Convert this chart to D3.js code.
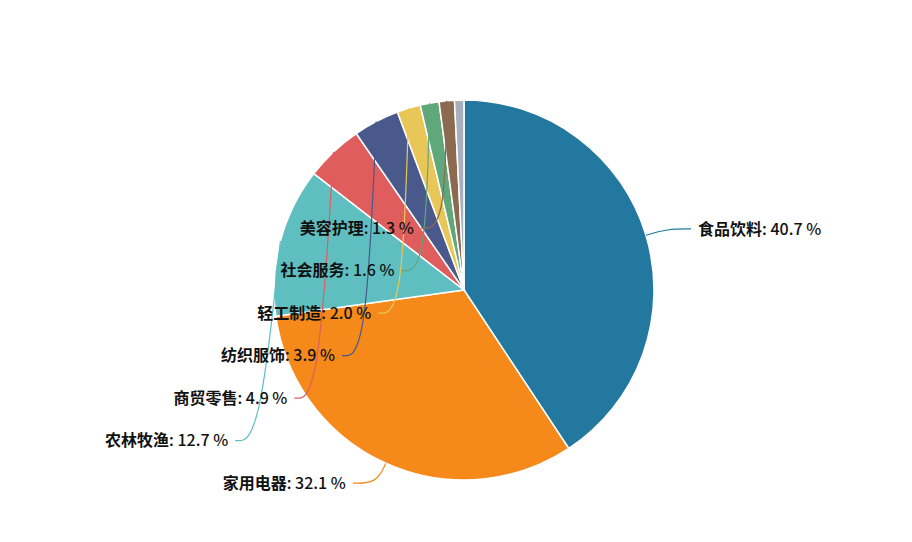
<!DOCTYPE html>
<html><head><meta charset="utf-8">
<script src="https://cdn.jsdelivr.net/npm/d3@7/dist/d3.min.js"></script>
<style>body{margin:0;background:#fff}</style></head>
<body><div class="content"></div>
<script>
var categories = ["食品饮料","家用电器","农林牧渔","商贸零售","纺织服饰","轻工制造","社会服务","美容护理",""];
var values = [40.7,32.1,12.7,4.9,3.9,2.0,1.6,1.3,0.8];
var colors = ["#22789f","#f58a1a","#5fbfc0","#e05d5d","#4a598c","#e8c658","#60a77c","#8b6a50","#a9b0bb"];

var width = 912, height = 542, cx = 464, cy = 290, r = 190;
var svg = d3.select(".content").append("svg").attr("width", width).attr("height", height);
var g = svg.append("g").attr("transform", "translate(" + cx + "," + cy + ")");
var pie = d3.pie().sort(null).value(function(d){ return d; });
var arcs = pie(values);
var arc = d3.arc().innerRadius(0).outerRadius(r);

g.selectAll("path.slice").data(arcs).enter().append("path")
  .attr("d", arc).attr("fill", function(d,i){ return colors[i]; })
  .attr("stroke", "#fff").attr("stroke-width", 1.5);

// label layout
var labels = arcs.map(function(d,i){
  var a = (d.startAngle + d.endAngle) / 2;
  var p0 = [Math.sin(a)*r, -Math.cos(a)*r];
  var p1 = [Math.sin(a)*(r+22), -Math.cos(a)*(r+22)];
  return {i:i, a:a, p0:p0, p1:p1, y:p1[1], left: Math.sin(a) < 0};
}).filter(function(l){ return categories[l.i] !== ""; });

// left side: stack bottom to top, keep the top one inside the view
var left = labels.filter(function(l){ return l.left; }).sort(function(a,b){ return b.y - a.y; });
var gap = 42.5, topLimit = -242;
var bottom = Math.max(left[0].y, topLimit + (left.length-1)*gap);
left.forEach(function(l, k){ l.y = bottom - k*gap; });

labels.forEach(function(l){
  var dir = l.left ? -1 : 1;
  var ex = l.p1[0] + dir*24;
  var pts = [l.p0, [l.p1[0], l.y], [ex, l.y]];
  g.append("path").attr("d", d3.line().curve(d3.curveBasis)(pts))
    .attr("fill", "none").attr("stroke", colors[l.i]).attr("stroke-width", 1.2);
  var t = g.append("text").attr("x", ex + dir*7).attr("y", l.y).attr("dy", "0.35em")
    .attr("text-anchor", l.left ? "end" : "start")
    .attr("font-family", "'Noto Sans CJK SC', 'Noto Sans', sans-serif").attr("font-size", 16).attr("fill", "#111");
  t.append("tspan").attr("font-weight", "bold").text(categories[l.i]);
  t.append("tspan").attr("font-weight", 500).text(": " + values[l.i].toFixed(1) + " %");
});
</script></body></html>
